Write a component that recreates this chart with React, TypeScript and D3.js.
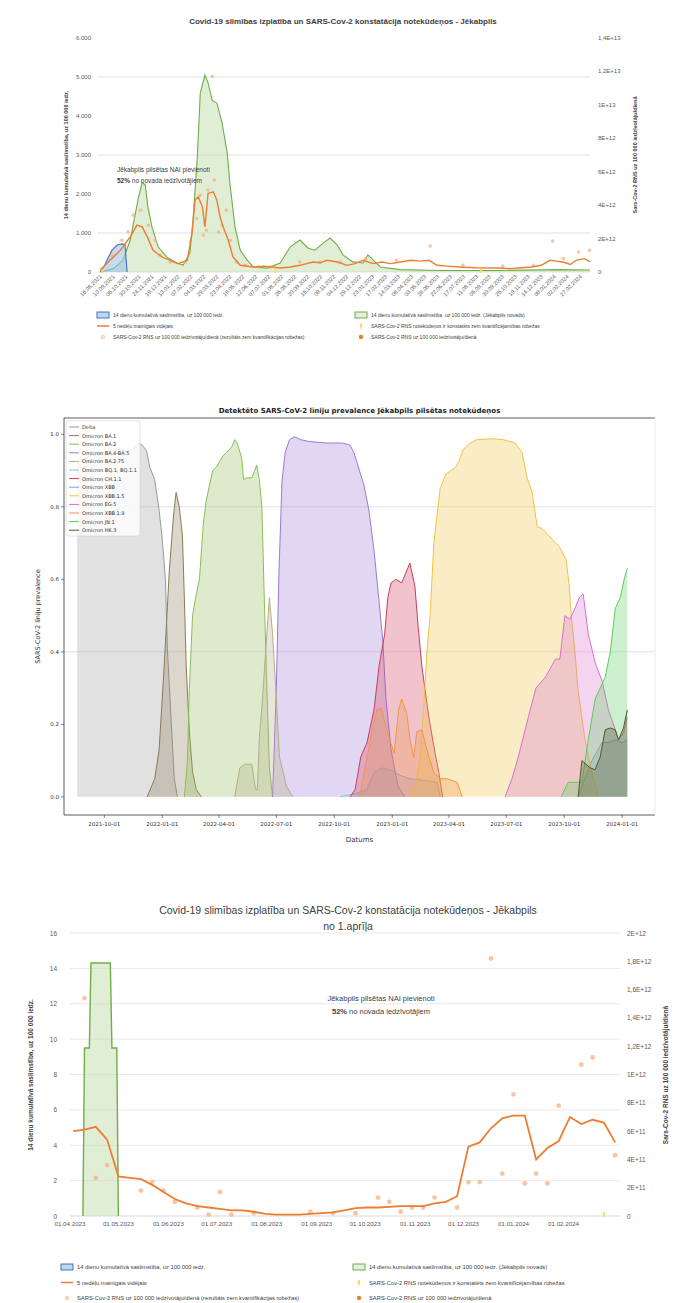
import React from "react";
import * as d3 from "d3";

type P = [string, number];

const XL = "'Liberation Sans', Arial, sans-serif";
const MPL = "'DejaVu Sans', sans-serif";
const pd = d3.timeParse("%Y-%m-%d");
const pdm = d3.timeParse("%d.%m.%Y");

// ================= Chart 1 data =================
const c1Title = "Covid-19 slimības izplatība un SARS-Cov-2 konstatācija notekūdeņos - Jēkabpils";
const c1XTicks = [
  "16.08.2021", "10.09.2021", "05.10.2021", "30.10.2021", "24.11.2021", "19.12.2021",
  "13.01.2022", "07.02.2022", "04.03.2022", "29.03.2022", "23.04.2022", "18.05.2022",
  "12.06.2022", "07.07.2022", "01.08.2022", "26.08.2022", "20.09.2022", "15.10.2022",
  "09.11.2022", "04.12.2022", "29.12.2022", "23.01.2023", "17.02.2023", "14.03.2023",
  "08.04.2023", "03.05.2023", "28.05.2023", "22.06.2023", "17.07.2023", "11.08.2023",
  "05.09.2023", "30.09.2023", "25.10.2023", "19.11.2023", "14.12.2023", "08.01.2024",
  "02.02.2024", "27.02.2024",
];
const c1LeftTicks = [0, 1000, 2000, 3000, 4000, 5000, 6000];
const c1Grid = [1000, 3000, 5000];
const c1RightTicks = [0, 2e12, 4e12, 6e12, 8e12, 1e13, 1.2e13, 1.4e13];

const c1Blue: P[] = [
  ["2021-08-16", 0], ["2021-08-24", 150], ["2021-08-31", 350], ["2021-09-08", 560],
  ["2021-09-18", 690], ["2021-09-27", 720], ["2021-10-03", 700], ["2021-10-07", 0],
];
const c1Green: P[] = [
  ["2021-08-16", 0], ["2021-09-10", 80], ["2021-09-29", 300], ["2021-10-13", 820], ["2021-10-28", 1850],
  ["2021-11-05", 2300], ["2021-11-11", 2230], ["2021-11-16", 1670], ["2021-11-24", 1150],
  ["2021-12-06", 640], ["2021-12-23", 380], ["2022-01-11", 230], ["2022-01-23", 180],
  ["2022-02-05", 490], ["2022-02-11", 1330], ["2022-02-19", 2870], ["2022-02-25", 4590],
  ["2022-03-06", 5050], ["2022-03-12", 4850], ["2022-03-20", 4400], ["2022-03-29", 4330],
  ["2022-04-08", 3820], ["2022-04-18", 3050], ["2022-04-23", 2280], ["2022-05-03", 1150],
  ["2022-05-13", 560], ["2022-05-26", 310], ["2022-06-07", 130], ["2022-07-04", 100],
  ["2022-07-29", 230], ["2022-08-17", 640], ["2022-09-05", 820], ["2022-09-21", 610],
  ["2022-10-04", 560], ["2022-10-20", 740], ["2022-11-02", 870], ["2022-11-16", 690],
  ["2022-11-27", 440], ["2022-12-16", 260], ["2023-01-05", 230], ["2023-01-14", 440],
  ["2023-01-24", 310], ["2023-02-07", 130], ["2023-03-17", 60], ["2023-06-02", 40],
  ["2023-09-26", 40], ["2024-01-19", 60], ["2024-03-17", 50],
];
const c1Avg: P[] = [
  ["2021-08-16", 0.1e12], ["2021-09-04", 0.7e12], ["2021-09-24", 1.3e12], ["2021-10-13", 2.1e12],
  ["2021-10-26", 2.8e12], ["2021-11-05", 2.7e12], ["2021-11-15", 2.1e12], ["2021-11-26", 1.3e12],
  ["2021-12-13", 0.9e12], ["2021-12-29", 0.7e12], ["2022-01-13", 0.5e12], ["2022-01-31", 0.7e12],
  ["2022-02-09", 2.3e12], ["2022-02-15", 4.3e12], ["2022-02-21", 4.5e12], ["2022-03-01", 3.9e12],
  ["2022-03-06", 2.7e12], ["2022-03-12", 4.7e12], ["2022-03-22", 4.8e12], ["2022-03-29", 4.3e12],
  ["2022-04-04", 3.3e12], ["2022-04-10", 2.7e12], ["2022-04-20", 1.9e12], ["2022-04-29", 0.9e12],
  ["2022-05-13", 0.4e12], ["2022-06-07", 0.3e12], ["2022-06-28", 0.35e12], ["2022-07-29", 0.24e12],
  ["2022-08-18", 0.3e12], ["2022-09-05", 0.4e12], ["2022-09-30", 0.6e12], ["2022-10-14", 0.55e12],
  ["2022-10-27", 0.7e12], ["2022-11-16", 0.6e12], ["2022-12-05", 0.4e12], ["2022-12-20", 0.5e12],
  ["2023-01-05", 0.7e12], ["2023-01-24", 0.5e12], ["2023-02-10", 0.6e12], ["2023-02-26", 0.5e12],
  ["2023-03-18", 0.6e12], ["2023-04-07", 0.7e12], ["2023-04-25", 0.65e12], ["2023-05-12", 0.7e12],
  ["2023-05-27", 0.4e12], ["2023-06-15", 0.35e12], ["2023-07-09", 0.3e12], ["2023-08-10", 0.25e12],
  ["2023-09-22", 0.24e12], ["2023-10-15", 0.2e12], ["2023-11-01", 0.24e12], ["2023-11-25", 0.3e12],
  ["2023-12-14", 0.4e12], ["2023-12-31", 0.7e12], ["2024-01-12", 0.65e12], ["2024-01-25", 0.6e12],
  ["2024-02-08", 0.45e12], ["2024-02-19", 0.7e12], ["2024-03-06", 0.8e12], ["2024-03-17", 0.6e12],
];
const c1Dots: P[] = [
  ["2021-09-08", 1.0e12], ["2021-09-27", 1.9e12], ["2021-10-09", 2.4e12], ["2021-10-19", 3.4e12],
  ["2021-11-02", 3.7e12], ["2021-11-17", 2.8e12], ["2021-11-30", 1.9e12], ["2021-12-10", 1.0e12],
  ["2021-12-29", 0.6e12], ["2022-01-27", 0.6e12], ["2022-02-06", 1.8e12], ["2022-02-18", 3.2e12],
  ["2022-02-25", 4.6e12], ["2022-03-03", 2.2e12], ["2022-03-09", 2.5e12], ["2022-03-12", 4.9e12],
  ["2022-03-20", 11.7e12], ["2022-03-24", 5.5e12], ["2022-04-01", 2.4e12], ["2022-04-08", 2.8e12],
  ["2022-04-16", 3.7e12], ["2022-04-24", 1.9e12], ["2022-05-06", 0.6e12], ["2022-05-23", 0.4e12],
  ["2022-06-17", 0.3e12], ["2022-07-10", 0.3e12], ["2022-09-05", 0.6e12], ["2022-10-14", 0.6e12],
  ["2022-11-22", 0.6e12], ["2023-01-10", 0.8e12], ["2023-03-10", 0.7e12], ["2023-05-14", 1.55e12],
  ["2023-07-16", 0.4e12], ["2023-10-01", 0.35e12], ["2023-11-29", 0.4e12], ["2024-01-05", 1.85e12],
  ["2024-01-26", 0.8e12], ["2024-02-24", 1.2e12], ["2024-03-16", 1.3e12],
];
const c1LowDots: P[] = [["2021-08-20", 0], ["2022-07-20", 0], ["2023-08-20", 0]];

// ================= Chart 2 data =================
const c2Title = "Detektēto SARS-CoV-2 līniju prevalence Jēkabpils pilsētas notekūdeņos";
const c2XTicks = [
  "2021-10-01", "2022-01-01", "2022-04-01", "2022-07-01", "2022-10-01",
  "2023-01-01", "2023-04-01", "2023-07-01", "2023-10-01", "2024-01-01",
];
const c2YTicks = [0, 0.2, 0.4, 0.6, 0.8, 1.0];
const c2Grid = [0.4, 0.8];
const c2Names = [
  "Delta", "Omicron BA.1", "Omicron BA.2", "Omicron BA.4-BA.5", "Omicron BA.2.75",
  "Omicron BQ.1, BQ.1.1", "Omicron CH.1.1", "Omicron XBB", "Omicron XBB.1.5",
  "Omicron EG.5", "Omicron XBB.1.9", "Omicron JN.1", "Omicron HK.3",
];
const c2Colors = [
  "#9a9a9a", "#8a7c55", "#8dbd55", "#9b7bd3", "#b4ad86",
  "#86c3e3", "#cf3a5a", "#7f9fd3", "#eec443",
  "#dc6fd0", "#f0954a", "#5ccc5c", "#4d5a2b",
];
const c2Delta: P[] = [
  ["2021-08-19", 0.92], ["2021-09-07", 0.94], ["2021-10-01", 0.95], ["2021-10-25", 0.96],
  ["2021-11-10", 0.95], ["2021-11-18", 0.965], ["2021-11-26", 0.975], ["2021-11-30", 0.97],
  ["2021-12-07", 0.955], ["2021-12-12", 0.91], ["2021-12-20", 0.875], ["2021-12-27", 0.79],
  ["2022-01-01", 0.71], ["2022-01-06", 0.6], ["2022-01-09", 0.41], ["2022-01-16", 0.18],
  ["2022-01-20", 0.05], ["2022-01-25", 0],
];
const c2BA1: P[] = [
  ["2021-12-08", 0], ["2021-12-20", 0.05], ["2021-12-27", 0.13], ["2022-01-04", 0.36],
  ["2022-01-12", 0.62], ["2022-01-19", 0.78], ["2022-01-23", 0.84], ["2022-01-28", 0.8],
  ["2022-02-02", 0.72], ["2022-02-05", 0.55], ["2022-02-08", 0.36], ["2022-02-13", 0.18],
  ["2022-02-18", 0.07], ["2022-02-24", 0.02], ["2022-03-04", 0],
];
const c2BA2: P[] = [
  ["2022-02-05", 0], ["2022-02-10", 0.1], ["2022-02-13", 0.3], ["2022-02-18", 0.5],
  ["2022-02-24", 0.56], ["2022-03-01", 0.6], ["2022-03-07", 0.75], ["2022-03-12", 0.82],
  ["2022-03-22", 0.9], ["2022-03-28", 0.91], ["2022-04-07", 0.94], ["2022-04-13", 0.95],
  ["2022-04-21", 0.965], ["2022-04-26", 0.985], ["2022-04-30", 0.975], ["2022-05-07", 0.935],
  ["2022-05-10", 0.875], ["2022-05-15", 0.88], ["2022-05-23", 0.88], ["2022-05-31", 0.915],
  ["2022-06-04", 0.875], ["2022-06-08", 0.8], ["2022-06-12", 0.54], ["2022-06-16", 0.3],
  ["2022-06-20", 0.08], ["2022-06-25", 0],
];
const c2BA45: P[] = [
  ["2022-06-25", 0], ["2022-07-01", 0.3], ["2022-07-05", 0.61], ["2022-07-10", 0.87],
  ["2022-07-15", 0.95], ["2022-07-22", 0.985], ["2022-07-30", 0.993], ["2022-08-09", 0.985],
  ["2022-08-23", 0.98], ["2022-09-19", 0.976], ["2022-10-14", 0.976], ["2022-10-26", 0.97],
  ["2022-11-01", 0.95], ["2022-11-17", 0.86], ["2022-11-25", 0.79], ["2022-12-03", 0.68],
  ["2022-12-11", 0.54], ["2022-12-17", 0.43], ["2022-12-22", 0.27], ["2022-12-30", 0.13],
  ["2023-01-10", 0.03], ["2023-01-21", 0],
];
const c2BA275: P[] = [
  ["2022-04-26", 0], ["2022-05-04", 0.08], ["2022-05-13", 0.09], ["2022-05-23", 0.09],
  ["2022-05-29", 0.02], ["2022-06-01", 0.02], ["2022-06-04", 0.16], ["2022-06-09", 0.27],
  ["2022-06-16", 0.45], ["2022-06-20", 0.55], ["2022-06-25", 0.45], ["2022-07-01", 0.27],
  ["2022-07-06", 0.11], ["2022-07-17", 0.03], ["2022-07-27", 0],
];
const c2BQ1: P[] = [
  ["2022-10-10", 0], ["2022-11-06", 0.01], ["2022-11-22", 0.02], ["2022-12-03", 0.066],
  ["2022-12-15", 0.08], ["2022-12-28", 0.075], ["2023-01-13", 0.06], ["2023-01-29", 0.05],
  ["2023-02-14", 0.047], ["2023-03-13", 0.04], ["2023-03-18", 0],
];
const c2CH11: P[] = [
  ["2022-10-26", 0], ["2022-11-03", 0.02], ["2022-11-12", 0.11], ["2022-11-22", 0.15],
  ["2022-12-03", 0.24], ["2022-12-11", 0.36], ["2022-12-20", 0.45], ["2022-12-25", 0.55],
  ["2022-12-30", 0.59], ["2023-01-07", 0.6], ["2023-01-16", 0.59], ["2023-01-23", 0.62],
  ["2023-01-29", 0.645], ["2023-02-06", 0.58], ["2023-02-11", 0.47], ["2023-02-17", 0.36],
  ["2023-02-28", 0.22], ["2023-03-10", 0.12], ["2023-03-16", 0.066], ["2023-03-22", 0],
];
const c2XBB: P[] = [
  ["2023-10-23", 0], ["2023-10-29", 0.03], ["2023-11-14", 0.1], ["2023-11-30", 0.15],
  ["2023-12-10", 0.15], ["2023-12-21", 0.157], ["2024-01-01", 0.15], ["2024-01-09", 0.157],
];
const c2XBB15: P[] = [
  ["2023-01-29", 0], ["2023-02-06", 0.03], ["2023-02-14", 0.1], ["2023-02-20", 0.25],
  ["2023-02-25", 0.4], ["2023-03-02", 0.5], ["2023-03-08", 0.7], ["2023-03-18", 0.85],
  ["2023-03-27", 0.89], ["2023-04-12", 0.91], ["2023-04-18", 0.93], ["2023-04-23", 0.957],
  ["2023-05-04", 0.975], ["2023-05-15", 0.985], ["2023-06-07", 0.988], ["2023-06-27", 0.985],
  ["2023-07-15", 0.976], ["2023-07-26", 0.95], ["2023-08-03", 0.88], ["2023-08-11", 0.84],
  ["2023-08-19", 0.745], ["2023-08-27", 0.74], ["2023-09-12", 0.71], ["2023-09-23", 0.69],
  ["2023-10-04", 0.655], ["2023-10-09", 0.58], ["2023-10-12", 0.5], ["2023-10-18", 0.4],
  ["2023-10-23", 0.29], ["2023-11-03", 0.157], ["2023-11-14", 0.066], ["2023-11-24", 0],
];
const c2EG5: P[] = [
  ["2023-06-29", 0], ["2023-07-10", 0.05], ["2023-07-20", 0.11], ["2023-08-05", 0.22],
  ["2023-08-17", 0.3], ["2023-09-01", 0.33], ["2023-09-17", 0.38], ["2023-09-24", 0.38],
  ["2023-10-02", 0.5], ["2023-10-10", 0.49], ["2023-10-18", 0.52], ["2023-10-25", 0.55],
  ["2023-10-31", 0.56], ["2023-11-08", 0.45], ["2023-11-19", 0.37], ["2023-11-30", 0.32],
  ["2023-12-10", 0.24], ["2023-12-21", 0.185], ["2023-12-26", 0.157], ["2024-01-03", 0.176],
  ["2024-01-09", 0.22],
];
const c2XBB19: P[] = [
  ["2022-11-10", 0], ["2022-11-22", 0.11], ["2022-11-30", 0.18], ["2022-12-07", 0.24],
  ["2022-12-15", 0.245], ["2022-12-23", 0.185], ["2023-01-04", 0.12], ["2023-01-11", 0.24],
  ["2023-01-16", 0.27], ["2023-01-24", 0.23], ["2023-01-29", 0.16], ["2023-02-04", 0.11],
  ["2023-02-09", 0.18], ["2023-02-17", 0.185], ["2023-02-25", 0.13], ["2023-03-08", 0.066],
  ["2023-03-18", 0.05], ["2023-03-29", 0.05], ["2023-04-14", 0.04], ["2023-04-22", 0],
];
const c2JN1: P[] = [
  ["2023-09-26", 0], ["2023-10-07", 0.04], ["2023-10-29", 0.04], ["2023-11-08", 0.157],
  ["2023-11-19", 0.27], ["2023-12-05", 0.33], ["2023-12-13", 0.4], ["2023-12-21", 0.52],
  ["2023-12-29", 0.55], ["2024-01-04", 0.6], ["2024-01-09", 0.63],
];
const c2HK3: P[] = [
  ["2023-10-23", 0], ["2023-10-29", 0.1], ["2023-11-11", 0.08], ["2023-11-19", 0.075],
  ["2023-11-27", 0.11], ["2023-12-05", 0.185], ["2023-12-13", 0.19], ["2023-12-21", 0.185],
  ["2023-12-26", 0.157], ["2024-01-03", 0.19], ["2024-01-09", 0.24],
];
const c2Data = [c2Delta, c2BA1, c2BA2, c2BA45, c2BA275, c2BQ1, c2CH11, c2XBB, c2XBB15, c2EG5, c2XBB19, c2JN1, c2HK3];

// ================= Chart 3 data =================
const c3Title1 = "Covid-19 slimības izplatība un SARS-Cov-2 konstatācija notekūdeņos - Jēkabpils";
const c3Title2 = "no 1.aprīļa";
const c3XTicks = [
  "2023-04-01", "2023-05-01", "2023-06-01", "2023-07-01", "2023-08-01", "2023-09-01",
  "2023-10-01", "2023-11-01", "2023-12-01", "2024-01-01", "2024-02-01",
];
const c3LeftTicks = [0, 2, 4, 6, 8, 10, 12, 14, 16];
const c3Grid = [2, 4, 6, 8, 10, 12, 14, 16];
const c3RightTicks = [0, 2e11, 4e11, 6e11, 8e11, 1e12, 1.2e12, 1.4e12, 1.6e12, 1.8e12, 2e12];
const c3Green: P[] = [
  ["2023-04-09", 0], ["2023-04-10", 9.5], ["2023-04-13", 9.5], ["2023-04-14", 14.3],
  ["2023-04-26", 14.3], ["2023-04-27", 9.5], ["2023-04-30", 9.5], ["2023-05-01", 0],
];
const c3Avg: P[] = [
  ["2023-04-03", 6.0e11], ["2023-04-10", 6.1e11], ["2023-04-17", 6.3e11], ["2023-04-24", 5.4e11],
  ["2023-05-01", 2.8e11], ["2023-05-08", 2.7e11], ["2023-05-15", 2.6e11], ["2023-05-22", 2.2e11],
  ["2023-05-29", 1.7e11], ["2023-06-05", 1.2e11], ["2023-06-12", 0.9e11], ["2023-06-19", 0.7e11],
  ["2023-06-26", 0.6e11], ["2023-07-03", 0.5e11], ["2023-07-10", 0.4e11], ["2023-07-17", 0.4e11],
  ["2023-07-24", 0.3e11], ["2023-07-31", 0.15e11], ["2023-08-07", 0.1e11], ["2023-08-14", 0.1e11],
  ["2023-08-21", 0.1e11], ["2023-08-28", 0.15e11], ["2023-09-04", 0.2e11], ["2023-09-11", 0.25e11],
  ["2023-09-18", 0.4e11], ["2023-09-25", 0.55e11], ["2023-10-02", 0.6e11], ["2023-10-09", 0.6e11],
  ["2023-10-16", 0.65e11], ["2023-10-23", 0.7e11], ["2023-10-30", 0.7e11], ["2023-11-06", 0.7e11],
  ["2023-11-13", 0.9e11], ["2023-11-20", 1.0e11], ["2023-11-27", 1.4e11], ["2023-12-04", 4.9e11],
  ["2023-12-11", 5.2e11], ["2023-12-18", 6.2e11], ["2023-12-25", 6.9e11], ["2024-01-01", 7.1e11],
  ["2024-01-08", 7.1e11], ["2024-01-15", 4.0e11], ["2024-01-22", 4.8e11], ["2024-01-29", 5.3e11],
  ["2024-02-05", 7.0e11], ["2024-02-12", 6.5e11], ["2024-02-19", 6.8e11], ["2024-02-26", 6.6e11],
  ["2024-03-04", 5.2e11],
];
const c3Dots: P[] = [
  ["2023-04-10", 15.4e11], ["2023-04-17", 2.7e11], ["2023-04-24", 3.6e11], ["2023-05-15", 1.8e11],
  ["2023-05-22", 2.4e11], ["2023-05-29", 1.8e11], ["2023-06-05", 1.0e11], ["2023-06-19", 0.6e11],
  ["2023-06-26", 0.1e11], ["2023-07-03", 1.7e11], ["2023-07-10", 0.1e11], ["2023-07-24", 0.2e11],
  ["2023-08-28", 0.3e11], ["2023-09-11", 0.2e11], ["2023-09-25", 0.2e11], ["2023-10-09", 1.3e11],
  ["2023-10-16", 1.0e11], ["2023-10-23", 0.3e11], ["2023-10-30", 0.6e11], ["2023-11-06", 0.6e11],
  ["2023-11-13", 1.3e11], ["2023-11-27", 0.6e11], ["2023-12-04", 2.4e11], ["2023-12-11", 2.4e11],
  ["2023-12-18", 18.2e11], ["2023-12-25", 3.0e11], ["2024-01-01", 8.6e11], ["2024-01-08", 2.3e11],
  ["2024-01-15", 3.0e11], ["2024-01-22", 2.3e11], ["2024-01-29", 7.8e11], ["2024-02-12", 10.7e11],
  ["2024-02-19", 11.2e11], ["2024-03-04", 4.3e11],
];
const c3LowDots: P[] = [["2024-02-26", 0]];

// ================= Legend texts =================
const legBlue = "14 dienu kumulatīvā saslimstība, uz 100 000 iedz.";
const legGreen = "14 dienu kumulatīvā saslimstība, uz 100 000 iedz. (Jēkabpils novads)";
const legAvg = "5 nedēļu mainīgais vidējais";
const legLow = "SARS-Cov-2 RNS notekūdeņos ir konstatēts zem kvantificējamības robežas";
const legPale = "SARS-Cov-2 RNS uz 100 000 iedzīvotāju/dienā (rezultāts zem kvantifikācijas robežas)";
const legDot = "SARS-Cov-2 RNS uz 100 000 iedzīvotāju/dienā";
const leftTitle = "14 dienu kumulatīvā saslimstība, uz 100 000 iedz.";
const rightTitle = "Sars-Cov-2 RNS uz 100 000 iedzīvotāju/dienā";
const annot1 = "Jēkabpils pilsētas NAI pievienoti";
const annotPct = "52%";
const annot2 = " no novada iedzīvotājiem";

const C_BLUE = "#4472c4";
const C_GREEN = "#70ad47";
const C_ORANGE = "#ed7d31";
const C_PALE = "#f4b183";
const C_YEL = "#ffd966";

const thFmt = d3.formatLocale({ decimal: ",", thousands: ".", grouping: [3], currency: ["", ""] }).format(",");
const expFmt = (v: number) => (v === 0 ? "0" : v.toExponential().replace(".", ",").replace("e", "E"));

function Legend({ x1, x2, y, dy, fs }: { x1: number; x2: number; y: number; dy: number; fs: number }) {
  const t = (x: number, yy: number, s: string) => (
    <text x={x + 16} y={yy + fs * 0.35} fontSize={fs} fill="#404040" fontFamily={XL}>{s}</text>
  );
  return (
    <g>
      <rect x={x1} y={y - 3} width={12} height={6} fill="#bdd7ee" stroke={C_BLUE} strokeWidth={1} />
      {t(x1, y, legBlue)}
      <line x1={x1} x2={x1 + 12} y1={y + dy} y2={y + dy} stroke={C_ORANGE} strokeWidth={1.5} />
      {t(x1, y + dy, legAvg)}
      <circle cx={x1 + 6} cy={y + 2 * dy} r={1.8} fill="#fbe0cc" stroke={C_PALE} strokeWidth={0.6} />
      {t(x1, y + 2 * dy, legPale)}
      <rect x={x2} y={y - 3} width={12} height={6} fill="#e2efda" stroke={C_GREEN} strokeWidth={1} />
      {t(x2, y, legGreen)}
      <rect x={x2 + 5} y={y + dy - 2.5} width={2} height={5} fill={C_YEL} />
      {t(x2, y + dy, legLow)}
      <circle cx={x2 + 6} cy={y + 2 * dy} r={2.2} fill={C_ORANGE} />
      {t(x2, y + 2 * dy, legDot)}
    </g>
  );
}

function Chart1() {
  const x = d3.scaleTime().domain([pd("2021-08-10")!, pd("2024-03-17")!]).range([97, 590]);
  const yL = d3.scaleLinear().domain([0, 6000]).range([272, 38]);
  const yR = d3.scaleLinear().domain([0, 1.4e13]).range([272, 38]);
  const areaL = d3.area<P>().x((d) => x(pd(d[0])!)).y0(yL(0)).y1((d) => yL(d[1]));
  const lineL = d3.line<P>().x((d) => x(pd(d[0])!)).y((d) => yL(d[1]));
  const lineR = d3.line<P>().x((d) => x(pd(d[0])!)).y((d) => yR(d[1]));
  return (
    <g fontFamily={XL}>
      <text x={343} y={24} textAnchor="middle" fontSize={8} fontWeight="bold" fill="#404040">{c1Title}</text>
      {c1Grid.map((v) => (
        <line key={v} x1={97} x2={590} y1={yL(v)} y2={yL(v)} stroke="#d9d9d9" strokeWidth={0.8} />
      ))}
      <line x1={97} x2={590} y1={272} y2={272} stroke="#d9d9d9" strokeWidth={0.8} />
      {c1LeftTicks.map((v) => (
        <text key={v} x={91} y={yL(v) + 2} textAnchor="end" fontSize={6} fill="#595959">{thFmt(v)}</text>
      ))}
      {c1RightTicks.map((v) => (
        <text key={v} x={598} y={yR(v) + 2} fontSize={6} fill="#595959">{expFmt(v)}</text>
      ))}
      <text transform="translate(68,155) rotate(-90)" textAnchor="middle" fontSize={5.5} fontWeight="bold" fill="#404040">{leftTitle}</text>
      <text transform="translate(637,155) rotate(-90)" textAnchor="middle" fontSize={5.5} fontWeight="bold" fill="#404040">{rightTitle}</text>
      <path d={areaL(c1Green)!} fill="#c6e0b4" fillOpacity={0.55} />
      <path d={lineL(c1Green)!} fill="none" stroke={C_GREEN} strokeWidth={1.1} />
      <path d={areaL(c1Blue)!} fill="#9dc3e6" fillOpacity={0.6} />
      <path d={lineL(c1Blue)!} fill="none" stroke={C_BLUE} strokeWidth={1.1} />
      {c1Dots.map((d, i) => (
        <circle key={i} cx={x(pd(d[0])!)} cy={yR(d[1])} r={1.8} fill={C_PALE} fillOpacity={0.75} />
      ))}
      {c1LowDots.map((d, i) => (
        <rect key={i} x={x(pd(d[0])!) - 1} y={yR(d[1]) - 3} width={2} height={4} fill={C_YEL} />
      ))}
      <path d={lineR(c1Avg)!} fill="none" stroke={C_ORANGE} strokeWidth={1.4} />
      {c1XTicks.map((s) => {
        const xx = x(pdm(s)!);
        return (
          <text key={s} transform={`translate(${xx + 2},${277}) rotate(-45)`} textAnchor="end" fontSize={5.6} fill="#595959">{s}</text>
        );
      })}
      <text x={117} y={172} fontSize={6.5} fill="#404040">{annot1}</text>
      <text x={117} y={183} fontSize={6.5} fill="#404040">
        <tspan fontWeight="bold">{annotPct}</tspan>{annot2}
      </text>
      <Legend x1={97} x2={355} y={315} dy={11} fs={5} />
    </g>
  );
}

function Chart2() {
  const L = 64, R = 655, T = 418, B = 815;
  const x = d3.scaleTime().domain([pd("2021-07-29")!, pd("2024-02-22")!]).range([L, R]);
  const y = d3.scaleLinear().domain([-0.05, 1.045]).range([B, T]);
  const area = d3.area<P>().x((d) => x(pd(d[0])!)).y0(y(0)).y1((d) => y(d[1]));
  const line = d3.line<P>().x((d) => x(pd(d[0])!)).y((d) => y(d[1]));
  const fmt = d3.timeFormat("%Y-%m-%d");
  return (
    <g fontFamily={MPL}>
      <text x={(L + R) / 2} y={413} textAnchor="middle" fontSize={7} fontWeight="bold" fill="#222">{c2Title}</text>
      {c2Grid.map((v) => (
        <line key={v} x1={L} x2={R} y1={y(v)} y2={y(v)} stroke="#dcdcdc" strokeWidth={0.8} />
      ))}
      {c2Data.map((d, i) => (
        <g key={i}>
          <path d={area(d)!} fill={c2Colors[i]} fillOpacity={0.3} />
          <path d={line(d)!} fill="none" stroke={c2Colors[i]} strokeWidth={1} />
        </g>
      ))}
      <line x1={L} x2={R} y1={T} y2={T} stroke="#333" strokeWidth={0.8} />
      <line x1={L} x2={R} y1={B} y2={B} stroke="#333" strokeWidth={0.8} />
      <line x1={L} x2={L} y1={T} y2={B} stroke="#333" strokeWidth={0.8} />
      <line x1={R} x2={R} y1={T} y2={B} stroke="#e4e4e4" strokeWidth={0.8} />
      {c2YTicks.map((v) => (
        <g key={v}>
          <line x1={L - 3} x2={L} y1={y(v)} y2={y(v)} stroke="#333" strokeWidth={0.6} />
          <text x={L - 5} y={y(v) + 2} textAnchor="end" fontSize={5.5} fill="#333">{v.toFixed(1)}</text>
        </g>
      ))}
      {c2XTicks.map((s) => {
        const xx = x(pd(s)!);
        return (
          <g key={s}>
            <line x1={xx} x2={xx} y1={B} y2={B + 3} stroke="#333" strokeWidth={0.6} />
            <text x={xx} y={B + 11} textAnchor="middle" fontSize={5.5} fill="#333">{fmt(pd(s)!)}</text>
          </g>
        );
      })}
      <text x={(L + R) / 2} y={842} textAnchor="middle" fontSize={7} fill="#333">Datums</text>
      <text transform={`translate(40,${(T + B) / 2}) rotate(-90)`} textAnchor="middle" fontSize={6.5} fill="#333">SARS-CoV-2 līniju prevalence</text>
      <g>
        <rect x={L + 2} y={421} width={74} height={115} rx={2} fill="#fff" fillOpacity={0.8} stroke="#d0d0d0" strokeWidth={0.6} />
        {c2Names.map((n, i) => (
          <g key={n}>
            <line x1={L + 5} x2={L + 15} y1={427 + i * 8.6} y2={427 + i * 8.6} stroke={c2Colors[i]} strokeWidth={1} />
            <text x={L + 18} y={427 + i * 8.6 + 2} fontSize={5} fill="#333">{n}</text>
          </g>
        ))}
      </g>
    </g>
  );
}

function Chart3() {
  const L = 70, R = 620, T = 933, B = 1216;
  const x = d3.scaleTime().domain([pd("2023-04-01")!, pd("2024-03-07")!]).range([L, R]);
  const yL = d3.scaleLinear().domain([0, 16]).range([B, T]);
  const yR = d3.scaleLinear().domain([0, 2e12]).range([B, T]);
  const areaL = d3.area<P>().x((d) => x(pd(d[0])!)).y0(yL(0)).y1((d) => yL(d[1]));
  const lineL = d3.line<P>().x((d) => x(pd(d[0])!)).y((d) => yL(d[1]));
  const lineR = d3.line<P>().x((d) => x(pd(d[0])!)).y((d) => yR(d[1]));
  const fmt = d3.timeFormat("%d.%m.%Y");
  return (
    <g fontFamily={XL}>
      <text x={348} y={914} textAnchor="middle" fontSize={10.5} fill="#404040">{c3Title1}</text>
      <text x={348} y={930} textAnchor="middle" fontSize={10.5} fill="#404040">{c3Title2}</text>
      {c3Grid.map((v) => (
        <line key={v} x1={L} x2={R} y1={yL(v)} y2={yL(v)} stroke="#e3e3e3" strokeWidth={0.8} />
      ))}
      <line x1={L} x2={R} y1={B} y2={B} stroke="#d0d0d0" strokeWidth={0.8} />
      {c3LeftTicks.map((v) => (
        <text key={v} x={57} y={yL(v) + 2.5} textAnchor="end" fontSize={6.5} fill="#595959">{v}</text>
      ))}
      {c3RightTicks.map((v) => (
        <text key={v} x={627} y={yR(v) + 2.5} fontSize={6.5} fill="#595959">{expFmt(v)}</text>
      ))}
      <text transform={`translate(33,1075) rotate(-90)`} textAnchor="middle" fontSize={6.5} fontWeight="bold" fill="#404040">{leftTitle}</text>
      <text transform={`translate(668,1075) rotate(-90)`} textAnchor="middle" fontSize={6.5} fontWeight="bold" fill="#404040">{rightTitle}</text>
      <path d={areaL(c3Green)!} fill="#c6e0b4" fillOpacity={0.55} />
      <path d={lineL(c3Green)!} fill="none" stroke={C_GREEN} strokeWidth={1.4} />
      {c3Dots.map((d, i) => (
        <circle key={i} cx={x(pd(d[0])!)} cy={yR(d[1])} r={2.4} fill={C_PALE} fillOpacity={0.75} />
      ))}
      {c3LowDots.map((d, i) => (
        <rect key={i} x={x(pd(d[0])!) - 1} y={yR(d[1]) - 4} width={2} height={5} fill={C_YEL} />
      ))}
      <path d={lineR(c3Avg)!} fill="none" stroke={C_ORANGE} strokeWidth={1.8} />
      {c3XTicks.map((s) => (
        <text key={s} x={x(pd(s)!)} y={1226} textAnchor="middle" fontSize={6.2} fill="#595959">{fmt(pd(s)!)}</text>
      ))}
      <text x={381} y={1001} textAnchor="middle" fontSize={7.5} fill="#404040">{annot1}</text>
      <text x={381} y={1014} textAnchor="middle" fontSize={7.5} fill="#404040">
        <tspan fontWeight="bold">{annotPct}</tspan>{annot2}
      </text>
      <Legend x1={61} x2={353} y={1267} dy={15.5} fs={5.8} />
    </g>
  );
}

export default function App() {
  return (
    <svg width={676} height={1303} style={{ position: "absolute", left: 0, top: 0, background: "#fff" }}>
      <rect x={0} y={0} width={676} height={1303} fill="#fff" />
      <Chart1 />
      <Chart2 />
      <Chart3 />
    </svg>
  );
}
